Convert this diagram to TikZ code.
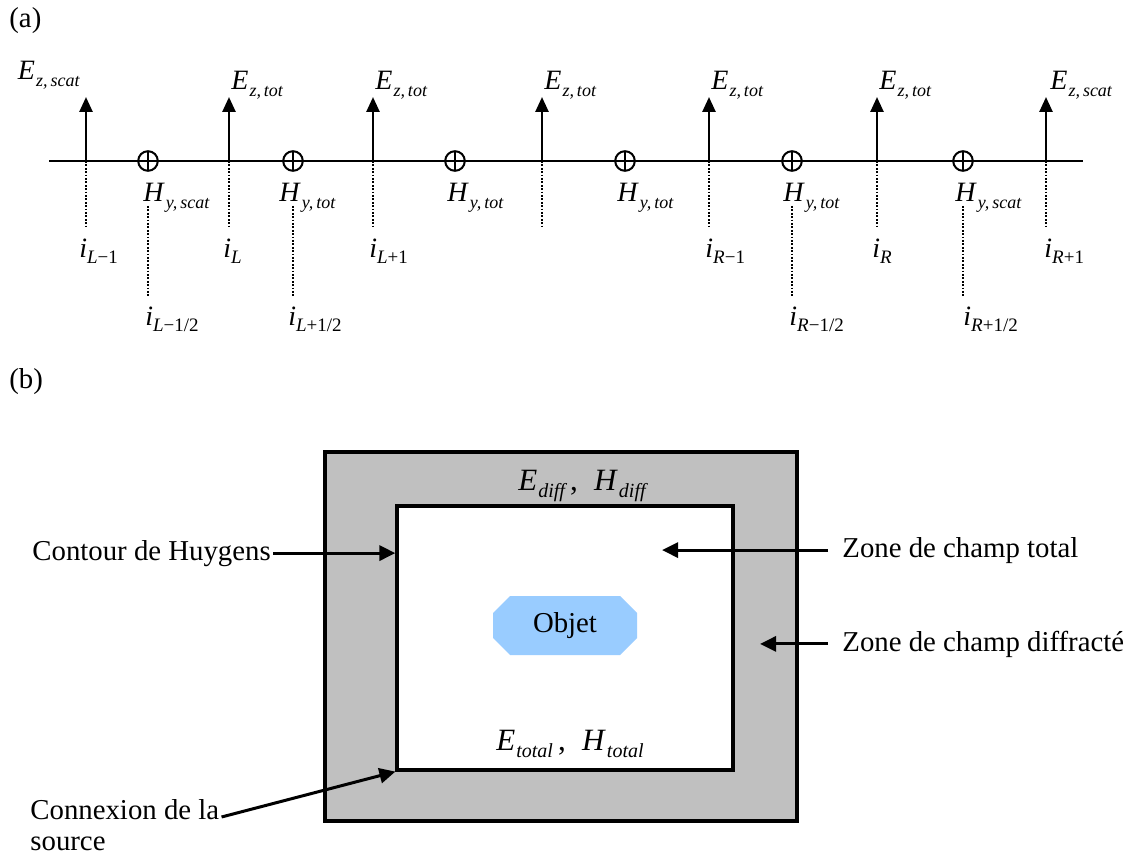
\documentclass[tikz,border=0pt]{standalone}
\usepackage{fontspec}
\setmainfont{Liberation Serif}
\usepackage{xcolor}
\usepackage{tikz}
\usetikzlibrary{arrows.meta,positioning}
\definecolor{zonegray}{HTML}{C0C0C0}
\definecolor{objectblue}{HTML}{99CCFF}
\newcommand{\fld}[3][9]{\textit{#2}\kern0.5pt\raisebox{-0.25em}{\fontsize{#1}{#1}\selectfont\itshape #3}}
\newcommand{\idx}[2]{\textit{i}\raisebox{-0.22em}{\fontsize{9.5}{9.5}\selectfont\textit{#1}#2}}
\tikzset{
  axisline/.style={line width=1pt},
  efield/.style={-{Triangle[length=7.5pt,width=6.5pt]},line width=1.3pt},
  gridline/.style={line width=0.9pt,dash pattern=on 0.9pt off 0.8pt},
  hnode/.style={
    circle,
    draw,
    fill=white,
    line width=1pt,
    minimum size=9.8pt,
    inner sep=0pt,
    path picture={
      \draw[line width=1pt] (path picture bounding box.north) -- (path picture bounding box.south)
        (path picture bounding box.west) -- (path picture bounding box.east);
    }
  },
  sym/.style={font=\fontsize{14}{16}\selectfont,inner sep=0pt},
  index/.style={font=\fontsize{14}{16}\selectfont,inner xsep=0pt,inner ysep=5pt},
  bigsym/.style={font=\fontsize{15.5}{18}\selectfont,inner sep=0pt},
  caption/.style={font=\fontsize{14.4}{16}\selectfont,inner sep=1.5pt},
  zone/.style={rectangle,draw,line width=1.6pt,inner sep=0pt},
  object/.style={
    rectangle,
    minimum width=72pt,
    minimum height=29.5pt,
    inner sep=0pt,
    font=\fontsize{14.4}{16}\selectfont,
    path picture={
      \fill[objectblue] ([xshift=8.5pt]path picture bounding box.north west)
        -- ([xshift=-8.5pt]path picture bounding box.north east)
        -- ([yshift=-8.5pt]path picture bounding box.north east)
        -- ([yshift=8.5pt]path picture bounding box.south east)
        -- ([xshift=-8.5pt]path picture bounding box.south east)
        -- ([xshift=8.5pt]path picture bounding box.south west)
        -- ([yshift=8.5pt]path picture bounding box.south west)
        -- ([yshift=-8.5pt]path picture bounding box.north west) -- cycle;
    }
  },
  pointer/.style={-{Triangle[length=8pt,width=7.5pt]},line width=1.5pt}
}

\begin{document}
\begin{tikzpicture}[x=0.5pt,y=-0.5pt]
  \useasboundingbox (0,0) rectangle (1131,856);

  \node[caption,anchor=base west] (parta) at (6,28) {(a)};

  \coordinate (axl) at (49,161);
  \coordinate (axr) at (1083,161);
  \draw[axisline] (axl) -- (axr);

  \coordinate (e1) at (86,161);   \coordinate (et1) at (86,97);
  \coordinate (e2) at (229,161);  \coordinate (et2) at (229,97);
  \coordinate (e3) at (373,161);  \coordinate (et3) at (373,97);
  \coordinate (e4) at (542,161);  \coordinate (et4) at (542,97);
  \coordinate (e5) at (709,161);  \coordinate (et5) at (709,97);
  \coordinate (e6) at (877,161);  \coordinate (et6) at (877,97);
  \coordinate (e7) at (1046,161); \coordinate (et7) at (1046,97);

  \draw[efield] (e1) -- (et1);
  \draw[efield] (e2) -- (et2);
  \draw[efield] (e3) -- (et3);
  \draw[efield] (e4) -- (et4);
  \draw[efield] (e5) -- (et5);
  \draw[efield] (e6) -- (et6);
  \draw[efield] (e7) -- (et7);

  \node[sym,anchor=base east] (el1) at (80,80) {\fld{E}{z,\,scat}};
  \node[sym,anchor=base west] (el2) at (231,90) {\fld{E}{z,\,tot}};
  \node[sym,anchor=base west] (el3) at (375,90) {\fld{E}{z,\,tot}};
  \node[sym,anchor=base west] (el4) at (544,90) {\fld{E}{z,\,tot}};
  \node[sym,anchor=base west] (el5) at (711,90) {\fld{E}{z,\,tot}};
  \node[sym,anchor=base west] (el6) at (879,90) {\fld{E}{z,\,tot}};
  \node[sym,anchor=base west] (el7) at (1050,90) {\fld{E}{z,\,scat}};

  \node[hnode] (hy1) at (148,161) {};
  \node[hnode] (hy2) at (293,161) {};
  \node[hnode] (hy3) at (455,161) {};
  \node[hnode] (hy4) at (625,161) {};
  \node[hnode] (hy5) at (792,161) {};
  \node[hnode] (hy6) at (963,161) {};

  \node[sym,anchor=base west] (hl1) at (143,202) {\fld{H}{y,\,scat}};
  \node[sym,anchor=base west] (hl2) at (279,202) {\fld{H}{y,\,tot}};
  \node[sym,anchor=base west] (hl3) at (447,202) {\fld{H}{y,\,tot}};
  \node[sym,anchor=base west] (hl4) at (617,202) {\fld{H}{y,\,tot}};
  \node[sym,anchor=base west] (hl5) at (783,202) {\fld{H}{y,\,tot}};
  \node[sym,anchor=base west] (hl6) at (955,202) {\fld{H}{y,\,scat}};

  \node[index,anchor=base west] (ie1) at (79,257) {\idx{L}{−1}};
  \node[index,anchor=base west] (ie2) at (223,257) {\idx{L}{}};
  \node[index,anchor=base west] (ie3) at (369,257) {\idx{L}{+1}};
  \coordinate (ie4) at (542,226);
  \node[index,anchor=base west] (ie5) at (705,257) {\idx{R}{−1}};
  \node[index,anchor=base west] (ie6) at (872,257) {\idx{R}{}};
  \node[index,anchor=base west] (ie7) at (1044,257) {\idx{R}{+1}};

  \node[index,anchor=base west] (ih1) at (145,325) {\idx{L}{−1/2}};
  \node[index,anchor=base west] (ih2) at (288,325) {\idx{L}{+1/2}};
  \node[index,anchor=base west] (ih5) at (789,325) {\idx{R}{−1/2}};
  \node[index,anchor=base west] (ih6) at (963,325) {\idx{R}{+1/2}};

  \draw[gridline] (e1) -- (e1 |- ie1.north);
  \draw[gridline] (e2) -- (e2 |- ie2.north);
  \draw[gridline] (e3) -- (e3 |- ie3.north);
  \draw[gridline] (e4) -- (ie4);
  \draw[gridline] (e5) -- (e5 |- ie5.north);
  \draw[gridline] (e6) -- (e6 |- ie6.north);
  \draw[gridline] (e7) -- (e7 |- ie7.north);

  \draw[gridline] ([yshift=-2pt]hy1 |- hl1.base) -- (hy1 |- ih1.north);
  \draw[gridline] ([yshift=-2pt]hy2 |- hl2.base) -- (hy2 |- ih2.north);
  \draw[gridline] ([yshift=-2pt]hy5 |- hl5.base) -- (hy5 |- ih5.north);
  \draw[gridline] ([yshift=-2pt]hy6 |- hl6.base) -- (hy6 |- ih6.north);

  \node[caption,anchor=base west] (partb) at (6,388) {(b)};

  \node[zone,fill=zonegray,minimum width=236pt,minimum height=184.5pt] (outer) at (561,636.5) {};
  \node[zone,fill=white,minimum width=168pt,minimum height=132pt] (inner) at (565,638) {};
  \node[object] (objet) at (565,625.5) {Objet};

  \node[bigsym,anchor=base] (diff) at (582,490) {\fld[10]{E}{diff}\,,\; \fld[10]{H}{diff}};
  \node[bigsym,anchor=base] (total) at (570,750) {\fld[10]{E}{total}\,,\; \fld[10]{H}{total}};

  \node[caption,inner xsep=1pt,anchor=base west] (contour) at (30,560) {Contour de Huygens};
  \node[caption,inner xsep=7pt,anchor=base west] (ztot) at (828,557) {Zone de champ total};
  \node[caption,inner xsep=7pt,anchor=base west] (zdif) at (828,651) {Zone de champ diffracté};
  \node[caption,font=\fontsize{14.4}{15.5}\selectfont,inner sep=1pt,anchor=north west,align=left] (conn) at (28,797) {Connexion de la\\source};

  \coordinate (tottip) at (662,553);
  \coordinate (diftip) at (760,648);

  \draw[pointer] (contour.east) -- (contour.east -| inner.west);
  \draw[pointer] (ztot.west) -- (ztot.west -| tottip);
  \draw[pointer] (zdif.west) -- (zdif.west -| diftip);
  \draw[pointer] ([yshift=-10pt]conn.north east) -- (inner.south west);
\end{tikzpicture}
\end{document}
